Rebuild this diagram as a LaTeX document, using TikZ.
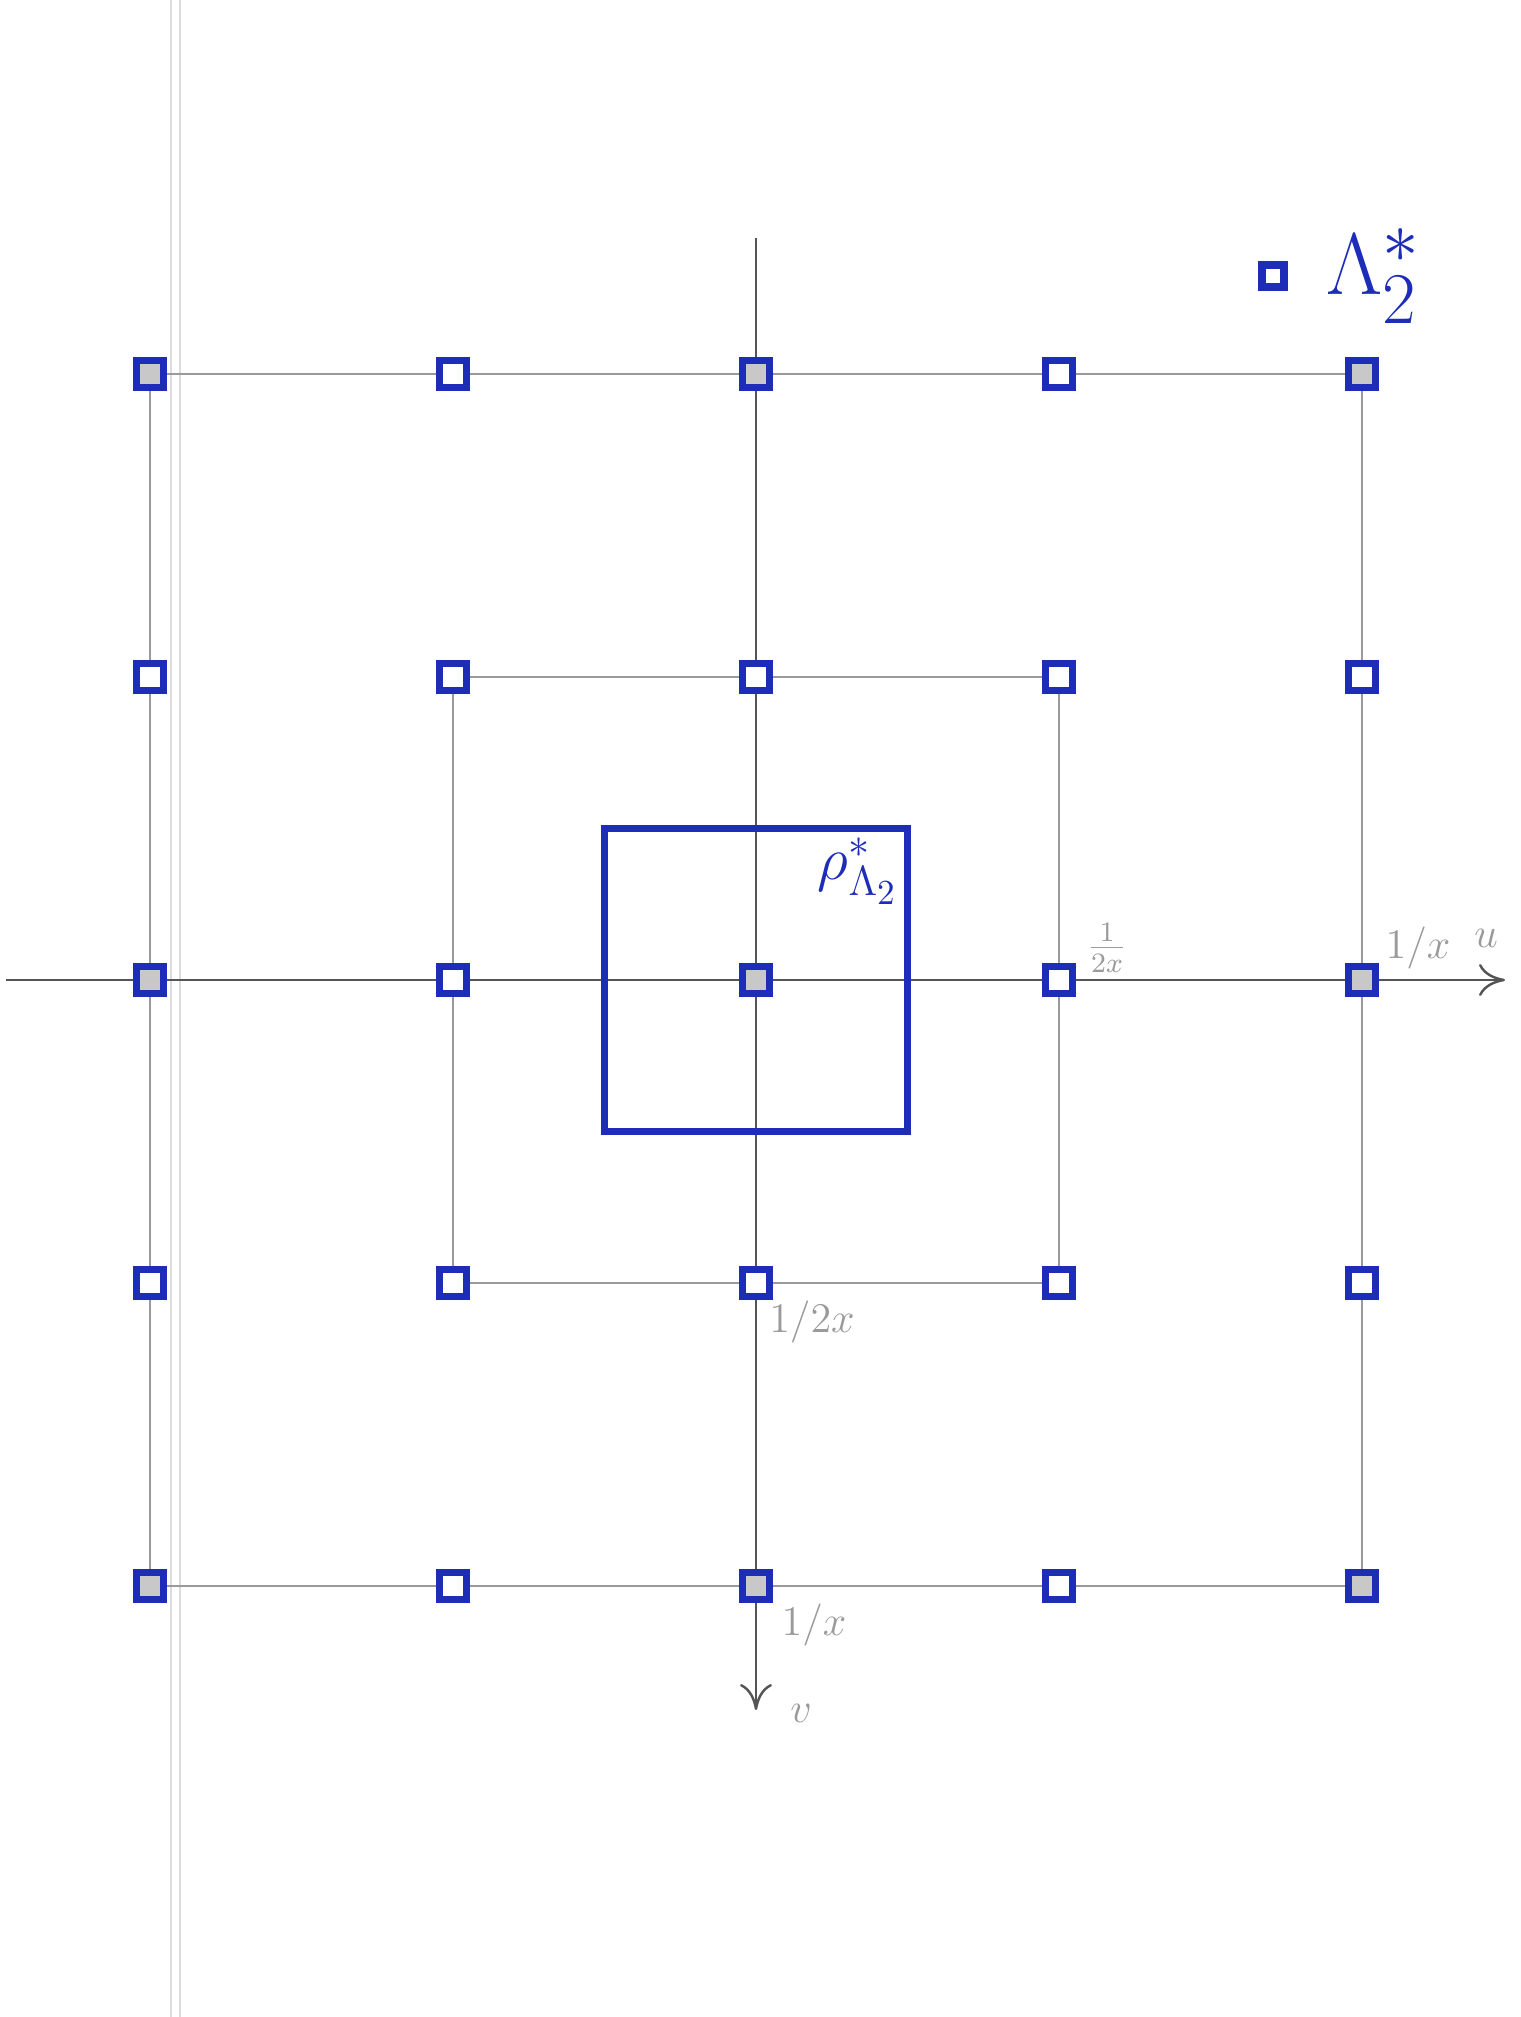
\documentclass[tikz,border=0pt]{standalone}
\usepackage{amsmath}
\usepackage{tikz}
\usetikzlibrary{arrows.meta,positioning}
\definecolor{inkblue}{HTML}{1E2DB8}
\definecolor{pencil}{HTML}{9A9A9A}
\definecolor{pencild}{HTML}{555555}
\definecolor{pencilf}{HTML}{C8C8C8}
\newcommand{\stp}{3.03}
\tikzset{
  latpt/.style   = {draw=inkblue, fill=white, line width=2pt, rectangle,
                    minimum size=0.27cm, inner sep=0pt},
  latptg/.style  = {latpt, fill=pencilf},
  legpt/.style   = {latpt, minimum size=0.22cm},
  gridln/.style  = {draw=pencil, line width=0.6pt},
  axisln/.style  = {draw=pencild, line width=0.7pt},
  axisar/.style  = {axisln, -{To[length=2.6mm,width=3.2mm]}},
  margln/.style  = {draw=pencil!35, line width=0.5pt},
  cellbox/.style = {draw=inkblue, line width=1.8pt},
  penlbl/.style  = {text=pencil, font=\large, inner sep=1pt},
  inklbl/.style  = {text=inkblue, inner sep=1pt},
}
\begin{document}
\begin{tikzpicture}
  \useasboundingbox (-7.56,-10.37) rectangle (7.64,9.80);

  % ---------- paper margin -------------------------------------------
  \draw[margln] (-5.85,-10.37) -- (-5.85,9.80);
  \draw[margln] (-5.76,-10.37) -- (-5.76,9.80);

  % ---------- lattice points -----------------------------------------
  \foreach \i in {-2,...,2}
    \foreach \j in {-2,...,2}
      \coordinate (c\i\j) at ({\i*\stp},{\j*\stp});

  % ---------- pencil squares -------------------------------------------
  \draw[gridln] (c-2-2) rectangle (c22);
  \draw[gridln] (c-1-1) rectangle (c11);

  % ---------- axes ---------------------------------------------------
  \coordinate (uL) at (-7.50,0);
  \coordinate (uR) at (7.49,0);
  \coordinate (vT) at (0,7.42);
  \coordinate (vB) at (0,-7.30);
  \draw[axisar] (uL) -- (uR);
  \draw[axisar] (vT) -- (vB);
  \node[penlbl] (ulbl) at (7.30,0.42) {$u$};
  \node[penlbl] (vlbl) at (0.45,-7.33) {$v$};

  % ---------- fundamental cell ---------------------------------------
  \draw[cellbox] ({-0.5*\stp},{-0.5*\stp}) coordinate (rhoSW)
    rectangle ({0.5*\stp},{0.5*\stp}) coordinate (rhoNE);
  \node[inklbl, anchor=north east, font=\LARGE] (rholbl)
    at ([shift={(-0.05,-0.05)}]rhoNE) {$\rho^{*}_{\Lambda_2}$};

  % ---------- markers ------------------------------------------------
  \foreach \i in {-2,...,2}
    \foreach \j in {-2,...,2}
      \node[latpt] (p\i\j) at (c\i\j) {};
  \foreach \i/\j in {-2/2,0/2,2/2,-2/0,0/0,2/0,-2/-2,0/-2,2/-2}
    \node[latptg] at (c\i\j) {};

  % ---------- scale labels -------------------------------------------
  \node[penlbl] (hx) at (3.51,0.32) {$\frac{1}{2x}$};
  \node[penlbl] (hxx) at (6.62,0.32) {$1/x$};
  \node[penlbl] (vhx) at (0.56,-3.42) {$1/2x$};
  \node[penlbl] (vxx) at (0.58,-6.45) {$1/x$};

  % ---------- legend -------------------------------------------------
  \node[legpt] (legsq) at (5.17,7.04) {};
  \node[inklbl, font=\Huge, right=0.35cm of legsq] (leglbl) {$\Lambda_2^{*}$};

\end{tikzpicture}
\end{document}
